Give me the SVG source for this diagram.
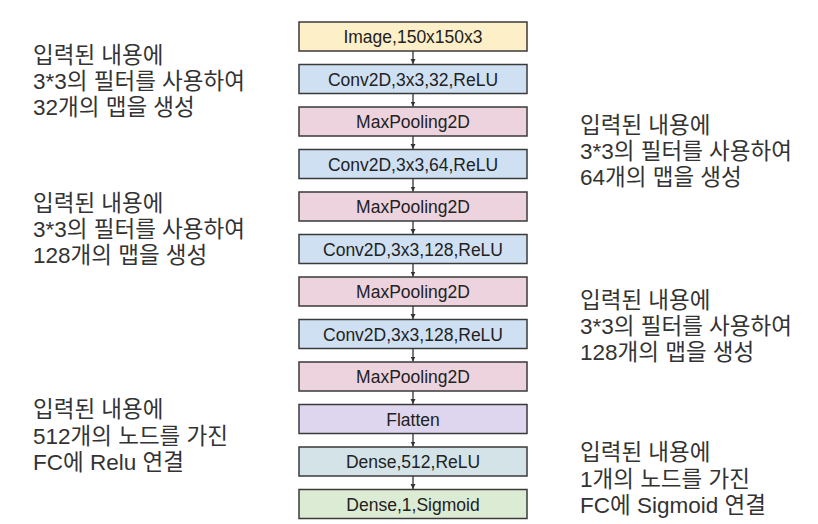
<svg xmlns="http://www.w3.org/2000/svg" width="818" height="524" viewBox="0 0 818 524">
<style>
.box{stroke:#3a3a3a;stroke-width:1.5}
.bt{font-family:"Liberation Sans",Arial,sans-serif;font-size:17.5px;fill:#222;text-anchor:middle}
.note{font-family:"Liberation Sans","Noto Sans CJK KR",sans-serif;font-size:22.5px;fill:#333}
.conn{stroke:#333;stroke-width:1.3;fill:none}
</style>
<defs>
<marker id="ah" markerWidth="6" markerHeight="6" refX="5" refY="3" orient="auto" markerUnits="userSpaceOnUse">
<path d="M0,0.5 L5,3 L0,5.5 Z" fill="#333"/>
</marker>
</defs>
<rect width="818" height="524" fill="#fff"/>
<g id="n0"><rect class="box" x="299" y="22" width="228" height="29" fill="#fdefc8"/><text class="bt" x="413" y="43">Image,150x150x3</text></g>
<g id="n1"><rect class="box" x="299" y="64.5" width="228" height="29" fill="#cfe0f3"/><text class="bt" x="413" y="85.5">Conv2D,3x3,32,ReLU</text></g>
<g id="n2"><rect class="box" x="299" y="107" width="228" height="29" fill="#ecd3dd"/><text class="bt" x="413" y="128">MaxPooling2D</text></g>
<g id="n3"><rect class="box" x="299" y="149.5" width="228" height="29" fill="#cfe0f3"/><text class="bt" x="413" y="170.5">Conv2D,3x3,64,ReLU</text></g>
<g id="n4"><rect class="box" x="299" y="192" width="228" height="29" fill="#ecd3dd"/><text class="bt" x="413" y="213">MaxPooling2D</text></g>
<g id="n5"><rect class="box" x="299" y="234.5" width="228" height="29" fill="#cfe0f3"/><text class="bt" x="413" y="255.5">Conv2D,3x3,128,ReLU</text></g>
<g id="n6"><rect class="box" x="299" y="277" width="228" height="29" fill="#ecd3dd"/><text class="bt" x="413" y="298">MaxPooling2D</text></g>
<g id="n7"><rect class="box" x="299" y="319.5" width="228" height="29" fill="#cfe0f3"/><text class="bt" x="413" y="340.5">Conv2D,3x3,128,ReLU</text></g>
<g id="n8"><rect class="box" x="299" y="362" width="228" height="29" fill="#ecd3dd"/><text class="bt" x="413" y="383">MaxPooling2D</text></g>
<g id="n9"><rect class="box" x="299" y="404.5" width="228" height="29" fill="#ddd6ee"/><text class="bt" x="413" y="425.5">Flatten</text></g>
<g id="n10"><rect class="box" x="299" y="447" width="228" height="29" fill="#d3e3e8"/><text class="bt" x="413" y="468">Dense,512,ReLU</text></g>
<g id="n11"><rect class="box" x="299" y="489.5" width="228" height="29" fill="#dcebd3"/><text class="bt" x="413" y="510.5">Dense,1,Sigmoid</text></g>
<g id="connectors">
<line class="conn" x1="413" y1="51" x2="413" y2="64" marker-end="url(#ah)"/>
<line class="conn" x1="413" y1="93.5" x2="413" y2="106.5" marker-end="url(#ah)"/>
<line class="conn" x1="413" y1="136" x2="413" y2="149" marker-end="url(#ah)"/>
<line class="conn" x1="413" y1="178.5" x2="413" y2="191.5" marker-end="url(#ah)"/>
<line class="conn" x1="413" y1="221" x2="413" y2="234" marker-end="url(#ah)"/>
<line class="conn" x1="413" y1="263.5" x2="413" y2="276.5" marker-end="url(#ah)"/>
<line class="conn" x1="413" y1="306" x2="413" y2="319" marker-end="url(#ah)"/>
<line class="conn" x1="413" y1="348.5" x2="413" y2="361.5" marker-end="url(#ah)"/>
<line class="conn" x1="413" y1="391" x2="413" y2="404" marker-end="url(#ah)"/>
<line class="conn" x1="413" y1="433.5" x2="413" y2="446.5" marker-end="url(#ah)"/>
<line class="conn" x1="413" y1="476" x2="413" y2="489" marker-end="url(#ah)"/>
</g>
<g id="note1"><text class="note" x="33" y="63"><tspan x="33" y="63">입력된 내용에</tspan><tspan x="33" y="89">3*3의 필터를 사용하여</tspan><tspan x="33" y="114.5">32개의 맵을 생성</tspan></text></g>
<g id="note2"><text class="note" x="33" y="211"><tspan x="33" y="211">입력된 내용에</tspan><tspan x="33" y="237">3*3의 필터를 사용하여</tspan><tspan x="33" y="262.5">128개의 맵을 생성</tspan></text></g>
<g id="note3"><text class="note" x="33" y="417"><tspan x="33" y="417">입력된 내용에</tspan><tspan x="33" y="443.5">512개의 노드를 가진</tspan><tspan x="33" y="469.5">FC에 Relu 연결</tspan></text></g>
<g id="note4"><text class="note" x="580" y="133"><tspan x="580" y="133">입력된 내용에</tspan><tspan x="580" y="159">3*3의 필터를 사용하여</tspan><tspan x="580" y="184.5">64개의 맵을 생성</tspan></text></g>
<g id="note5"><text class="note" x="580" y="308"><tspan x="580" y="308">입력된 내용에</tspan><tspan x="580" y="334">3*3의 필터를 사용하여</tspan><tspan x="580" y="359.5">128개의 맵을 생성</tspan></text></g>
<g id="note6"><text class="note" x="580" y="460"><tspan x="580" y="460">입력된 내용에</tspan><tspan x="580" y="486.5">1개의 노드를 가진</tspan><tspan x="580" y="512.5">FC에 Sigmoid 연결</tspan></text></g>
</svg>
